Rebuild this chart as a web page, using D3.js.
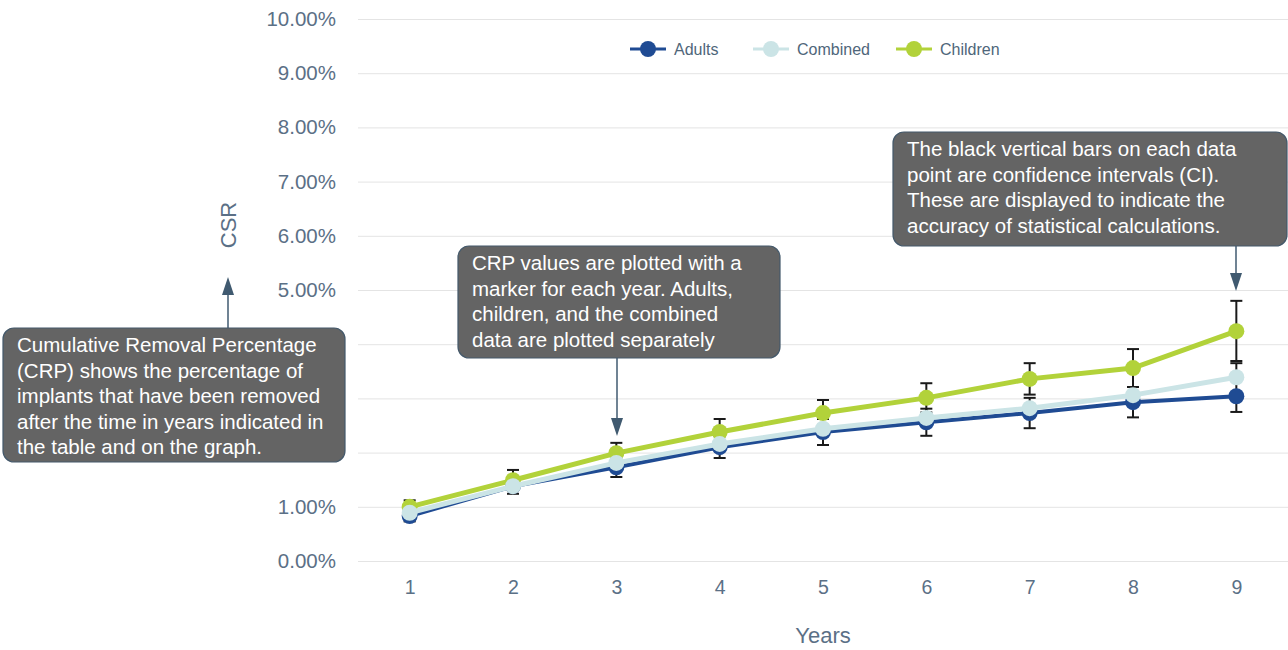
<!DOCTYPE html>
<html>
<head>
<meta charset="utf-8">
<script src="https://cdn.jsdelivr.net/npm/d3@7"></script>
<style>
  body { margin: 0; background: #fff; }
  svg { font-family: "Liberation Sans", Arial, sans-serif; display: block; }
</style>
</head>
<body>
<div id="chart"></div>
<script>
// values (percent)
const years = [1, 2, 3, 4, 5, 6, 7, 8, 9];
const yTicks = [0, 1, 2, 3, 4, 5, 6, 7, 8, 9, 10];
const seriesNames = ["Adults", "Combined", "Children"];

const adults   = [0.83, 1.38, 1.73, 2.10, 2.38, 2.56, 2.73, 2.93, 3.04];
const combined = [0.89, 1.38, 1.81, 2.16, 2.44, 2.64, 2.82, 3.06, 3.39];
const children = [1.00, 1.49, 1.99, 2.38, 2.73, 3.01, 3.36, 3.56, 4.24];

const adultsLow  = [0.73, 1.24, 1.55, 1.90, 2.14, 2.31, 2.45, 2.65, 2.75];
const adultsHigh = [0.93, 1.52, 1.91, 2.30, 2.62, 2.81, 3.01, 3.21, 3.65];
const childLow   = [0.88, 1.30, 1.80, 2.14, 2.49, 2.74, 3.07, 3.21, 3.69];
const childHigh  = [1.12, 1.68, 2.18, 2.62, 2.97, 3.28, 3.65, 3.91, 4.80];

const notes = [
  { lines: ["Cumulative Removal Percentage", "(CRP) shows the percentage of",
            "implants that have been removed", "after the time in years indicated in",
            "the table and on the graph."] },
  { lines: ["CRP values are plotted with a", "marker for each year. Adults,",
            "children, and the combined", "data are plotted separately"] },
  { lines: ["The black vertical bars on each data", "point are confidence intervals (CI).",
            "These are displayed to indicate the", "accuracy of statistical calculations."] }
];

const width = 1288, height = 650;
const margin = { top: 19, right: 0, bottom: 89, left: 358 };
const colors = { Adults: "#1f4b93", Combined: "#cbe4e6", Children: "#b2d23a" };
const axisColor = "#5b7086";

const svg = d3.select("#chart").append("svg")
  .attr("width", width).attr("height", height);

const x = d3.scalePoint()
  .domain(years)
  .range([margin.left, width - margin.right])
  .padding(0.5);

const y = d3.scaleLinear()
  .domain([0, 10])
  .range([height - margin.bottom, margin.top]);

// grid + y labels
const yAxis = svg.append("g")
  .attr("transform", `translate(${margin.left},0)`)
  .call(d3.axisLeft(y)
    .tickValues(yTicks)
    .tickSize(-(width - margin.left - margin.right))
    .tickPadding(22)
    .tickFormat(d => d3.format(".2f")(d) + "%"));
yAxis.select(".domain").remove();
yAxis.selectAll(".tick line").attr("stroke", "#e4e4e4");
yAxis.selectAll(".tick text")
  .attr("fill", axisColor)
  .attr("font-size", 20.5)
  .attr("font-family", "Liberation Sans, Arial, sans-serif");

// x labels
const xAxis = svg.append("g")
  .attr("transform", `translate(0,${height - margin.bottom})`)
  .call(d3.axisBottom(x).tickSize(0).tickPadding(19));
xAxis.select(".domain").remove();
xAxis.selectAll(".tick text")
  .attr("fill", axisColor)
  .attr("font-size", 19.5)
  .attr("font-family", "Liberation Sans, Arial, sans-serif");

svg.append("text")
  .attr("x", x(5)).attr("y", 643)
  .attr("text-anchor", "middle")
  .attr("fill", axisColor)
  .attr("font-size", 22)
  .text("Years");

svg.append("text")
  .attr("transform", `translate(236,225) rotate(-90)`)
  .attr("text-anchor", "middle")
  .attr("fill", axisColor)
  .attr("font-size", 22)
  .text("CSR");

// error bars (behind lines)
const errG = svg.append("g");
function errorBars(low, high) {
  years.forEach((yr, i) => {
    const cx = x(yr);
    errG.append("line")
      .attr("x1", cx).attr("x2", cx)
      .attr("y1", y(low[i])).attr("y2", y(high[i]))
      .attr("stroke", "#1a1a1a").attr("stroke-width", 2);
    [low[i], high[i]].forEach(v => {
      errG.append("line")
        .attr("x1", cx - 6).attr("x2", cx + 6)
        .attr("y1", y(v)).attr("y2", y(v))
        .attr("stroke", "#1a1a1a").attr("stroke-width", 2);
    });
  });
}
errorBars(adultsLow, adultsHigh);
errorBars(childLow, childHigh);

// series
const seriesData = { Adults: adults, Combined: combined, Children: children };
const line = d3.line()
  .x((d, i) => x(years[i]))
  .y(d => y(d));

["Adults", "Children", "Combined"].forEach(name => {
  const g = svg.append("g");
  g.append("path")
    .datum(seriesData[name])
    .attr("d", line)
    .attr("fill", "none")
    .attr("stroke", colors[name])
    .attr("stroke-width", name === "Adults" ? 4 : 5);
  g.selectAll("circle")
    .data(seriesData[name])
    .join("circle")
    .attr("cx", (d, i) => x(years[i]))
    .attr("cy", d => y(d))
    .attr("r", 8)
    .attr("fill", colors[name]);
});

// legend
const legendItems = [
  { name: "Adults", x: 630 },
  { name: "Combined", x: 753 },
  { name: "Children", x: 896 }
];
const leg = svg.append("g");
legendItems.forEach(it => {
  const g = leg.append("g").attr("transform", `translate(${it.x},49)`);
  g.append("line").attr("x1", 0).attr("x2", 36)
    .attr("stroke", colors[it.name]).attr("stroke-width", 3);
  g.append("circle").attr("cx", 18).attr("r", 8).attr("fill", colors[it.name]);
  g.append("text").attr("x", 44).attr("y", 5.5)
    .attr("fill", "#4f667a").attr("font-size", 16)
    .text(it.name);
});

// annotations
const noteBoxes = [
  { x: 3, y: 328, w: 342, h: 134, arrow: { x: 228, y1: 328, y2: 277 } },
  { x: 458, y: 246, w: 322, h: 112, arrow: { x: 617, y1: 358, y2: 436 } },
  { x: 893, y: 132, w: 394, h: 114, arrow: { x: 1236, y1: 246, y2: 291 } }
];
const arrowColor = "#405a70";
notes.forEach((n, k) => {
  const b = noteBoxes[k];
  const g = svg.append("g");
  const a = b.arrow;
  const dir = a.y2 < a.y1 ? -1 : 1;
  g.append("line")
    .attr("x1", a.x).attr("x2", a.x)
    .attr("y1", a.y1).attr("y2", a.y2 - dir * 14)
    .attr("stroke", arrowColor).attr("stroke-width", 1.5);
  g.append("path")
    .attr("d", `M${a.x},${a.y2} L${a.x - 6},${a.y2 - dir * 18} L${a.x + 6},${a.y2 - dir * 18} Z`)
    .attr("fill", arrowColor);
  g.append("rect")
    .attr("x", b.x).attr("y", b.y).attr("width", b.w).attr("height", b.h)
    .attr("rx", 11)
    .attr("fill", "#646464")
    .attr("stroke", "#44596b").attr("stroke-width", 1.2);
  g.append("text")
    .attr("x", b.x + 14).attr("y", b.y + 24)
    .attr("fill", "#fff").attr("font-size", 20.5)
    .selectAll("tspan")
    .data(n.lines)
    .join("tspan")
    .attr("x", b.x + 14)
    .attr("dy", (d, i) => i === 0 ? 0 : 25.5)
    .text(d => d);
});
</script>
</body>
</html>
